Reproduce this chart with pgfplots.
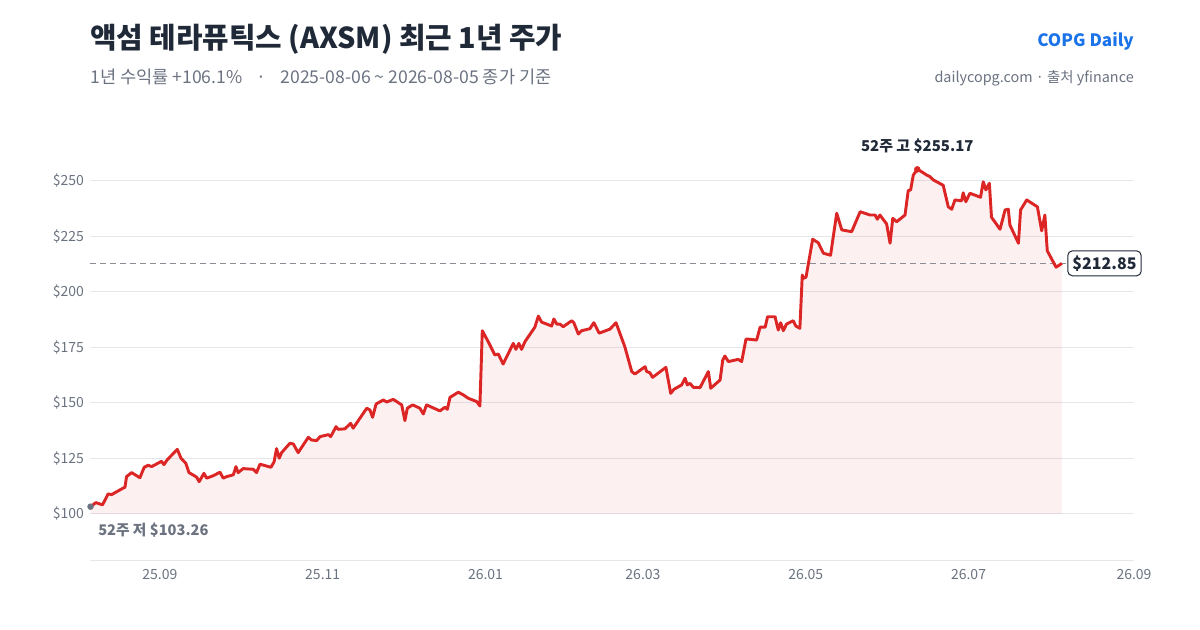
\documentclass[border=0pt]{standalone}
\usepackage{pgfplots}
\pgfplotsset{compat=1.18}
\usepackage{pgfplotstable}
\usepackage{fontspec}
\setmainfont{Noto Sans CJK KR}

\definecolor{lineR}{RGB}{220,38,38}
\definecolor{gridc}{RGB}{229,231,235}
\definecolor{tickc}{RGB}{107,114,128}
\definecolor{titlec}{RGB}{31,41,55}
\definecolor{brandc}{RGB}{26,115,232}
\definecolor{dashc}{RGB}{140,140,150}

% days since 2025-09-01, close price
\pgfplotstableread{
d v
-26 103.26
-24 105.1
-21.5 104.1
-19.4 109.0
-18.1 108.7
-13.8 111.6
-13.1 112.0
-12.5 116.8
-10.6 118.6
-7.5 116.3
-5.9 121.0
-4.4 121.9
-3.1 121.3
0.6 123.7
1.5 122.2
2.7 124.3
6.5 129.1
7.9 125.1
9.7 122.8
10.9 118.6
12.9 117.2
13.8 116.5
14.7 114.5
16.5 118.3
17.5 116.1
20.0 117.2
22.5 118.8
23.7 116.1
25.0 116.8
27.5 117.6
28.5 121.3
29.3 118.6
31.2 120.4
35.0 120.1
36.2 118.6
37.5 122.4
41.6 121.0
42.8 123.5
43.7 129.4
44.7 125.1
45.6 127.6
48.7 131.8
50.0 131.5
51.8 127.6
55.6 134.5
56.8 133.3
58.7 133.0
60.0 134.8
63.1 135.7
64.0 134.8
66.0 139.3
66.8 138.1
69.3 138.3
71.5 140.8
72.4 138.6
77.5 147.6
78.7 146.8
79.7 143.5
81.0 149.5
83.7 151.3
85.0 150.4
87.4 151.6
88.7 150.6
90.6 149.1
91.8 142.0
92.7 147.6
94.7 149.1
97.4 147.6
98.7 145.0
99.9 149.1
104.9 146.4
106.8 148.0
107.7 147.1
108.7 152.5
111.8 154.8
113.7 153.6
115.5 152.1
118.7 150.6
119.9 148.6
120.8 182.5
123.0 177.6
125.5 171.6
126.8 172.0
128.6 167.5
132.4 176.8
133.4 174.1
134.5 176.8
135.5 174.1
136.8 177.6
140.5 184.1
141.8 189.1
143.0 186.4
146.8 184.6
147.6 187.8
148.7 185.5
149.9 185.5
151.1 184.3
154.3 187.0
155.1 186.1
156.8 181.0
158.0 182.5
161.1 183.4
162.6 186.1
164.6 181.4
168.6 183.2
170.9 186.1
174.2 175.3
176.8 164.1
178.0 163.0
181.8 166.3
182.4 164.1
183.6 163.6
184.6 161.5
189.6 166.0
191.4 154.3
192.6 156.1
195.5 158.1
196.8 161.1
197.6 158.1
198.6 158.8
199.9 157.0
202.4 156.9
205.5 164.1
206.4 156.6
209.9 160.3
210.9 169.3
211.7 171.1
213.0 168.6
216.7 169.6
218.0 168.6
219.6 178.7
220.5 178.7
223.6 178.3
224.9 184.1
226.8 184.1
227.7 188.8
230.5 188.8
231.7 182.8
232.6 186.1
233.6 182.5
234.8 185.5
237.3 187.0
238.3 184.6
239.8 183.6
240.7 207.6
241.1 206.1
242.1 206.6
244.6 223.7
246.7 222.1
248.6 217.4
251.3 216.5
253.6 235.4
255.5 227.9
259.2 227.1
262.4 236.1
266.1 234.6
268.0 234.6
268.8 232.7
269.8 234.6
272.3 230.6
273.6 221.9
274.6 233.1
276.1 231.6
279.2 234.6
280.4 245.6
281.3 245.9
282.3 252.6
283.8 255.17
285.4 254.1
287.3 252.6
288.5 251.9
289.8 250.4
293.5 248.0
295.4 238.3
296.7 237.2
297.9 241.4
300.4 241.0
301.0 244.6
302.0 240.6
303.5 244.4
307.5 242.6
308.5 249.6
309.5 245.9
310.8 248.9
311.6 233.6
314.8 228.2
316.7 236.9
317.9 237.2
318.5 230.1
321.7 221.9
322.5 236.9
324.8 241.4
328.8 238.3
330.4 227.5
331.6 234.6
332.5 218.5
335.8 211.1
338.0 212.85
}\price

\begin{document}
\begin{tikzpicture}[x=0.75pt,y=0.75pt]
\path[use as bounding box] (0,0) rectangle (1200,630);
\coordinate (AO) at (90,69);

\begin{axis}[
  at={(AO)}, anchor=south west,
  scale only axis, width=783pt, height=330.75pt,
  xmin=-26.2, xmax=365, ymin=78.8, ymax=277.4,
  clip=false,
  axis x line*=bottom, axis y line*=left,
  x axis line style={draw=gridc, line width=0.75pt, -},
  y axis line style={draw=none},
  major tick length=0pt,
  xtick={0,61,122,181,242,303,365},
  xticklabels={25.09,25.11,26.01,26.03,26.05,26.07,26.09},
  ytick={100,125,150,175,200,225,250},
  yticklabels={\$100,\$125,\$150,\$175,\$200,\$225,\$250},
  ymajorgrids, grid style={draw=gridc, line width=0.75pt},
  tick label style={font=\fontsize{10.5}{12}\selectfont, text=tickc},
  xticklabel style={yshift=-3pt},
  yticklabel style={xshift=-1pt},
]
\addplot[draw=none, fill=lineR, fill opacity=0.07] table[x=d,y=v] {\price}
  -- (axis cs:338,100) -- (axis cs:-26,100) -- cycle;
\draw[dashc, line width=0.75pt, dash pattern=on 4.5pt off 3pt]
  (axis cs:-26.2,212.85) -- (axis cs:365,212.85);
\addplot[lineR, line width=2.2pt, line join=round, no marks] table[x=d,y=v] {\price};
\addplot[only marks, mark=*, mark size=2.2pt, lineR] coordinates {(283.8,255.17)};
\addplot[only marks, mark=*, mark size=2.2pt, tickc] coordinates {(-26,103.26)};
\node[anchor=base, inner sep=0pt, text=titlec, font=\bfseries\fontsize{11.2}{13}\selectfont]
  at (axis cs:283.8,263.1) {52주 고 \$255.17};
\node[anchor=base west, inner sep=0pt, text=tickc, font=\bfseries\fontsize{11}{13}\selectfont]
  at (axis cs:-23.2,90.5) {52주 저 \$103.26};
\node[anchor=west, draw=titlec, line width=0.75pt, rounded corners=3.5pt, fill=white,
  text=titlec, font=\bfseries\fontsize{12}{14}\selectfont, inner xsep=3.5pt, inner ysep=3.5pt]
  at (axis cs:340,212.85) {\$212.85};
\end{axis}

\node[anchor=base west, inner sep=0pt, text=titlec, font=\bfseries\fontsize{21.6}{26}\selectfont]
  at (90,581) {액섬 테라퓨틱스 (AXSM) 최근 1년 주가};
\node[anchor=base west, inner sep=0pt, text=tickc, font=\fontsize{13.2}{16}\selectfont]
  at (90,546) {1년 수익률 +106.1\%\hspace{0.8em}·\hspace{0.8em}2025-08-06 \textasciitilde{} 2026-08-05 종가 기준};
\node[anchor=base east, inner sep=0pt, text=brandc, font=\bfseries\fontsize{12.8}{15}\selectfont]
  at (1134,583) {COPG Daily};
\node[anchor=base east, inner sep=0pt, text=tickc, font=\fontsize{10.8}{13}\selectfont]
  at (1134,547) {dailycopg.com · 출처 yfinance};
\end{tikzpicture}
\end{document}
